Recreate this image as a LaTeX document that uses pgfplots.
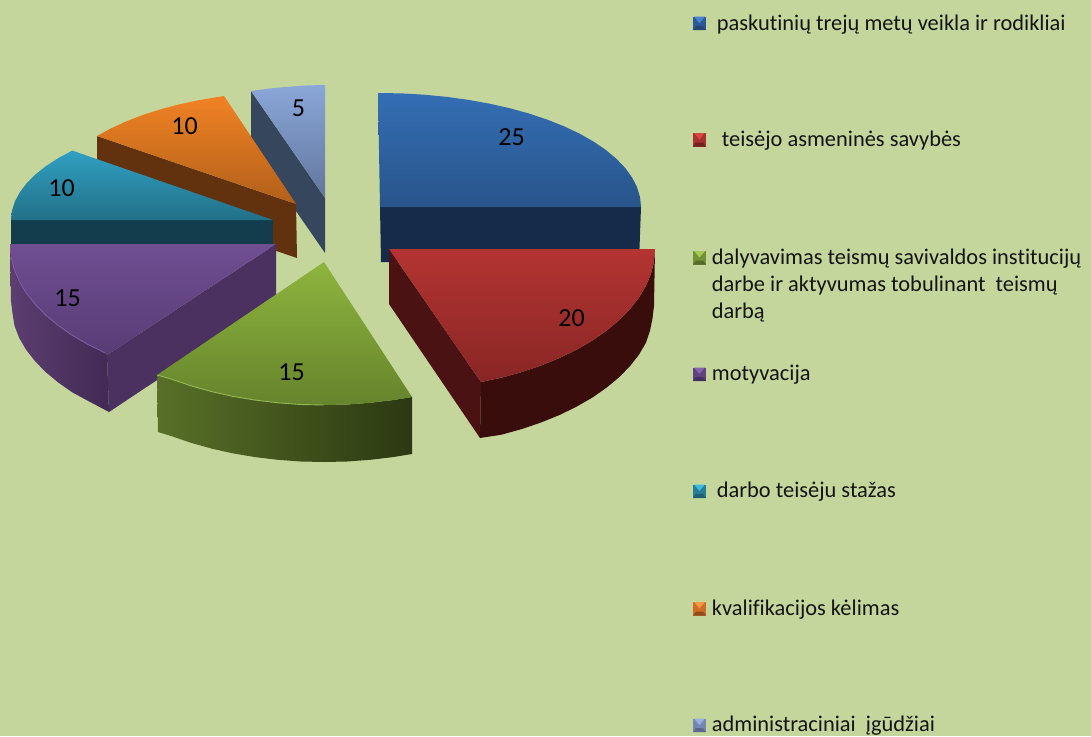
\documentclass[border=0pt]{standalone}
\usepackage{fontspec}
\setmainfont[RawFeature={-liga;-dlig;-clig}]{Carlito}
\usepackage{pgfplots}
\pgfplotsset{compat=1.18}
\definecolor{bg}{HTML}{C4D69C}
\newcommand\swatch[4]{%
  \path[fill=#3] (axis cs:693,#1) rectangle (axis cs:706,{#1+13.5});
  \path[fill=#2] (axis cs:694,#1) -- (axis cs:705,#1) -- (axis cs:699.5,{#1+6.5}) -- cycle;
  \path[fill=#4] (axis cs:693,{#1+13.5}) -- (axis cs:706,{#1+13.5}) -- (axis cs:703,{#1+9.5}) -- (axis cs:696,{#1+9.5}) -- cycle;
}
\newcommand\legtext[3]{\node[anchor=base west,inner sep=0pt,font=\fontsize{22.4}{27}\selectfont,text=black!92] at (axis cs:#1,#2) {#3};}
\newcommand\vallabel[3]{\node[anchor=base,inner sep=0pt,font=\fontsize{26}{28}\selectfont,text=black] at (axis cs:#1,#2) {#3};}
\begin{document}
\begin{tikzpicture}
\fill[bg] (0,0) rectangle (1091pt,736pt);
\begin{axis}[at={(0,0)},anchor=south west,scale only axis,width=1091pt,height=736pt,
  xmin=0,xmax=1091,ymin=0,ymax=736,y dir=reverse,hide axis,clip=false,no markers]
% light blue (5)
\addplot[draw=none,fill={rgb,255:red,54;green,70;blue,92}] coordinates {(251,91)(325,198)(325,253)(251,146)} -- cycle;
\addplot[draw=none,top color={rgb,255:red,138;green,167;blue,216},bottom color={rgb,255:red,98;green,118;blue,158}] coordinates {(251,91)(270,88.5)(285,87)(305,85.5)(325,85)(325,198)} -- cycle;
% orange (10)
\addplot[draw=none,fill={rgb,255:red,98;green,49;blue,14}] coordinates {(97,136)(296,204)(297,258)(97,190)} -- cycle;
\addplot[draw=none,top color={rgb,255:red,240;green,130;blue,36},bottom color={rgb,255:red,178;green,96;blue,26}] coordinates {(97,136)(110.7,128.5)(125.9,121.5)(142.4,115.1)(160.2,109.4)(178.9,104.4)(198.6,100.2)(224,96)(296,204)} -- cycle;
% blue (25)
\addplot[draw=none,fill={rgb,255:red,22;green,43;blue,74}] coordinates {(380,207)(641,207)(639,262)(381,262)} -- cycle;
\addplot[draw=none,top color={rgb,255:red,52;green,110;blue,180},bottom color={rgb,255:red,40;green,84;blue,138}] coordinates {(378,93)(401.8,93.4)(424.5,94.7)(446.8,96.9)(468.6,99.9)(489.7,103.7)(510,108.3)(529.3,113.6)(547.4,119.7)(564.3,126.4)(579.7,133.7)(593.6,141.6)(605.9,150)(616.4,158.8)(625.2,168)(632.1,177.5)(637,187.2)(640,197.1)(641,207)(380,207)} -- cycle;
% teal (10)
\addplot[draw=none,fill={rgb,255:red,19;green,61;blue,77}] coordinates {(11,220)(273,220)(273,246)(11,246)} -- cycle;
\addplot[draw=none,top color={rgb,255:red,48;green,160;blue,194},bottom color={rgb,255:red,34;green,112;blue,136}] coordinates {(11,220)(12,210.6)(15,201.2)(20,192)(26.8,183.1)(35.5,174.4)(46.1,166)(58.4,158)(72.3,150.6)(273,220)} -- cycle;
% purple (15)
\addplot[draw=none,fill={rgb,255:red,74;green,49;blue,96}] coordinates {(276,244)(276,301)(109,412)(107,355)} -- cycle;
\addplot[draw=none,left color={rgb,255:red,92;green,62;blue,112},right color={rgb,255:red,66;green,42;blue,85}] coordinates {(10,244)(11,256.4)(14,268.7)(19.1,280.8)(26,292.6)(34.9,304)(45.6,315)(58.1,325.4)(72.2,335.3)(87.9,344.4)(105,352.8)(107,355)(109,412)(89,401.4)(72.2,392.3)(58.1,382.4)(45.6,372)(34.9,361)(26,349.6)(19.1,337.8)(14.5,325.7)(12.5,313.4)(11,301)} -- cycle;
\addplot[draw=none,top color={rgb,255:red,112;green,78;blue,146},bottom color={rgb,255:red,88;green,60;blue,118}] coordinates {(10,244)(11,256.4)(14,268.7)(19.1,280.8)(26,292.6)(34.9,304)(45.6,315)(58.1,325.4)(72.2,335.3)(87.9,344.4)(105,352.8)(107,355)(276,244)} -- cycle;
\addplot[line width=0.9pt,color={rgb,255:red,122;green,92;blue,160}] coordinates {(11,256.4)(14,268.7)(19.1,280.8)(26,292.6)(34.9,304)(45.6,315)(58.1,325.4)(72.2,335.3)(87.9,344.4)(105,352.8)};
% green (15)
\addplot[draw=none,left color={rgb,255:red,88;green,112;blue,40},right color={rgb,255:red,44;green,56;blue,18}] coordinates {(157,375)(171.4,379.1)(191,385.8)(211.6,391.6)(233,396.4)(255.2,400.1)(277.8,402.8)(300.8,404.5)(324,405)(347.2,404.5)(370.2,402.8)(392.8,400.1)(412,397)(412,454)(392.8,457.1)(370.2,459.8)(347.2,461.5)(324,462)(300.8,461.5)(277.8,459.8)(255.2,457.1)(233,453.4)(211.6,448.6)(191,442.8)(171.4,436.1)(158,432)} -- cycle;
\addplot[draw=none,top color={rgb,255:red,142;green,180;blue,62},bottom color={rgb,255:red,102;green,132;blue,44}] coordinates {(157,375)(171.4,379.1)(191,385.8)(211.6,391.6)(233,396.4)(255.2,400.1)(277.8,402.8)(300.8,404.5)(324,405)(347.2,404.5)(370.2,402.8)(392.8,400.1)(412,397)(324,262)} -- cycle;
\addplot[line width=0.9pt,color={rgb,255:red,150;green,184;blue,84}] coordinates {(157,375)(171.4,379.1)(191,385.8)(211.6,391.6)(233,396.4)(255.2,400.1)(277.8,402.8)(300.8,404.5)(324,405)};
% red (20)
\addplot[draw=none,fill={rgb,255:red,74;green,18;blue,18}] coordinates {(389,249)(481,382)(480,438)(389,304)} -- cycle;
\addplot[draw=none,fill={rgb,255:red,58;green,13;blue,13}] coordinates {(655,249)(654,261.4)(651,273.7)(645.9,285.8)(639,297.6)(630.1,309)(619.4,320)(606.9,330.4)(592.8,340.3)(577.1,349.4)(560,357.8)(541.6,365.3)(522,372)(501.4,377.7)(481,382)(480,438)(501.4,434.7)(522,429)(541.6,422.3)(560,414.8)(577.1,406.4)(592.8,397.3)(606.9,387.4)(619.4,377)(630.1,366)(639,354.6)(645.9,342.8)(650,330.7)(652.5,318.4)(654,306)} -- cycle;
\addplot[draw=none,top color={rgb,255:red,180;green,52;blue,50},bottom color={rgb,255:red,136;green,38;blue,36}] coordinates {(389,249)(655,249)(654,261.4)(651,273.7)(645.9,285.8)(639,297.6)(630.1,309)(619.4,320)(606.9,330.4)(592.8,340.3)(577.1,349.4)(560,357.8)(541.6,365.3)(522,372)(501.4,377.7)(481,382)} -- cycle;
% labels
\vallabel{511.5}{145}{25}
\vallabel{571.5}{326.7}{20}
\vallabel{291.5}{380.7}{15}
\vallabel{67.5}{306.7}{15}
\vallabel{61.5}{196.7}{10}
\vallabel{184.5}{134.3}{10}
\vallabel{298.5}{116.7}{5}
% legend
\swatch{16.7}{{rgb,255:red,70;green,130;blue,205}}{{rgb,255:red,45;green,90;blue,150}}{{rgb,255:red,35;green,70;blue,115}}
\swatch{133}{{rgb,255:red,215;green,70;blue,65}}{{rgb,255:red,165;green,50;blue,48}}{{rgb,255:red,115;green,32;blue,32}}
\swatch{251}{{rgb,255:red,165;green,200;blue,85}}{{rgb,255:red,115;green,145;blue,55}}{{rgb,255:red,85;green,108;blue,40}}
\swatch{367.5}{{rgb,255:red,135;green,100;blue,170}}{{rgb,255:red,95;green,68;blue,125}}{{rgb,255:red,70;green,48;blue,95}}
\swatch{484.5}{{rgb,255:red,60;green,185;blue,220}}{{rgb,255:red,40;green,125;blue,150}}{{rgb,255:red,30;green,95;blue,115}}
\swatch{602}{{rgb,255:red,245;green,150;blue,65}}{{rgb,255:red,205;green,110;blue,40}}{{rgb,255:red,145;green,78;blue,28}}
\swatch{718.5}{{rgb,255:red,150;green,178;blue,225}}{{rgb,255:red,115;green,135;blue,175}}{{rgb,255:red,90;green,105;blue,140}}
\legtext{716.7}{30}{paskutinių trejų metų veikla ir rodikliai}
\legtext{721.7}{146.7}{teisėjo asmeninės savybės}
\legtext{711.7}{264}{dalyvavimas teismų savivaldos institucijų}
\legtext{711.7}{291.5}{darbe ir aktyvumas tobulinant\ \ teismų}
\legtext{711.7}{318}{darbą}
\legtext{711.7}{380.7}{motyvacija}
\legtext{716.7}{497.7}{darbo teisėju stažas}
\legtext{711.7}{615}{kvalifikacijos kėlimas}
\legtext{711.7}{731}{administraciniai\ \ įgūdžiai}
\end{axis}
\end{tikzpicture}
\end{document}
